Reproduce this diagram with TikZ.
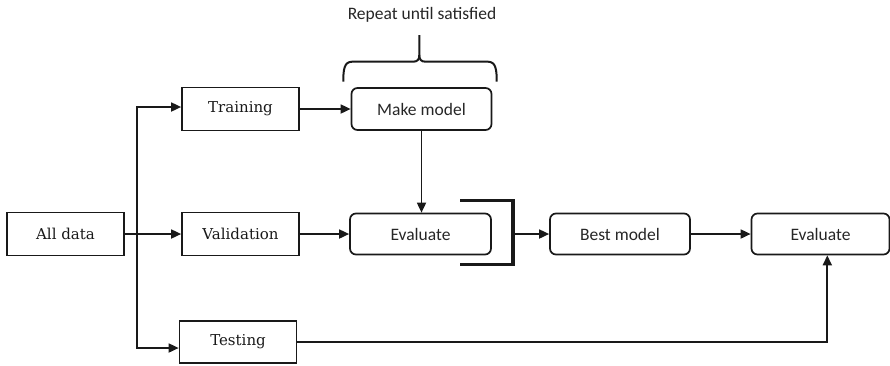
\documentclass[tikz,border=0pt]{standalone}
\usepackage{fontspec}
\setmainfont{DejaVu Serif}
\newfontfamily\calibfont{Carlito}
\usetikzlibrary{arrows.meta}
\begin{document}
\begin{tikzpicture}[x=1pt,y=-1pt,
  line width=1.7pt, draw=black!90,
  sbox/.style={draw, minimum width=117pt, minimum height=43pt, inner sep=0pt,
    font=\fontsize{15}{18}\selectfont, text=black!90},
  rbox/.style={draw, rounded corners=6pt, minimum height=41pt, inner sep=0pt,
    font=\calibfont\fontsize{17.5}{20}\selectfont, text=black!85},
  arr/.style={-{Triangle[length=10pt,width=9pt]}},
  brk/.style={line width=3.2pt},
  brc/.style={line width=2pt}]
\useasboundingbox (0,0) rectangle (890,365);

\node[sbox] (all) at (65.5,234) {All data};
\node[sbox] (train) at (240.5,109) {Training};
\node[sbox] (valid) at (240.5,234) {Validation};
\node[sbox, minimum height=42pt] (test) at (238,342) {Testing};

\node[rbox, minimum width=140pt, minimum height=42pt] (make) at (421.5,109) {Make model};
\node[rbox, minimum width=141pt] (eval1) at (420.5,234) {Evaluate};
\node[rbox, minimum width=140pt] (best) at (620,234) {Best model};
\node[rbox, minimum width=138pt] (eval2) at (820.5,234) {Evaluate};

\node[font=\calibfont\fontsize{17.5}{20}\selectfont, text=black!85] (rep) at (422,15) {Repeat until satisfied};

% trunk
\coordinate (j) at (136.7,234);
\coordinate (jt) at (136.7,107);
\coordinate (jb) at (136.7,348);
\draw (all.east) -- (j);
\draw[arr] (j) -- (valid.west);
\draw[arr] (j) -- (jt) -- (jt -| train.west);
\draw[arr] (j) -- (jb) -- (jb -| test.west);

\draw[arr] (train.east) -- (make.west);
\draw[arr] (valid.east) -- (eval1.west);
\draw[arr] (make.south) -- (make.south |- eval1.north);

% bracket
\coordinate (b1) at (460,200.7);
\coordinate (b2) at (513,200.7);
\coordinate (b3) at (513,264.3);
\coordinate (b4) at (460,264.3);
\coordinate (bm) at (513,234);
\draw[brk] (b1) -- (b2) -- (b3) -- (b4);
\draw[arr] (bm) -- (best.west);
\draw[arr] (best.east) -- (eval2.west);

% testing to evaluate
\coordinate (tc) at (827.3,342);
\draw[arr] (test.east) -- (tc) -- (tc |- eval2.south);

% brace
\draw[brc] (343.3,81.7) .. controls (343.3,70) and (344,61.7) .. (352,61.7)
  -- (413,61.7) .. controls (417.5,61.7) and (419.3,59.5) .. (419.3,55) -- (419.3,35);
\draw[brc] (419.3,55) .. controls (419.3,59.5) and (421.1,61.7) .. (425.6,61.7)
  -- (488,61.7) .. controls (496,61.7) and (496.7,70) .. (496.7,81.7);
\end{tikzpicture}
\end{document}
